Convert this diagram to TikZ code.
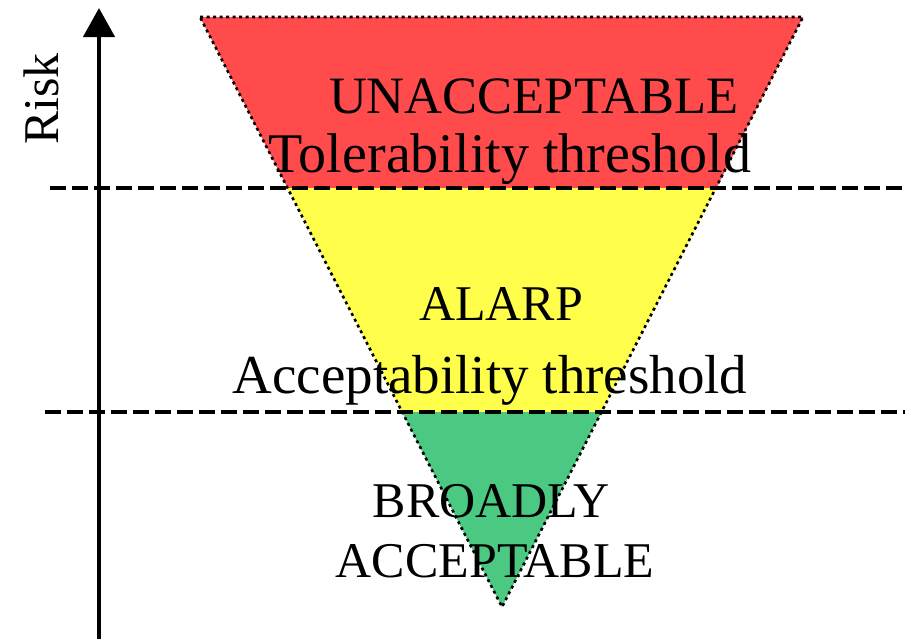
\documentclass[tikz,border=0pt]{standalone}
\usepackage{fontspec}
\setmainfont{Liberation Serif}
\usetikzlibrary{arrows.meta}
\definecolor{zonered}{RGB}{255,75,75}
\definecolor{zoneyellow}{RGB}{255,255,75}
\definecolor{zonegreen}{RGB}{75,200,130}
\tikzset{
  zone/.style={draw=black, line width=2.6pt, dash pattern=on 3pt off 3.5pt},
  threshold/.style={draw=black, line width=3.4pt, dash pattern=on 16pt off 6pt},
  bigcaps/.style={font=\fontsize{50}{60}\selectfont, inner sep=0pt, anchor=base},
  bigtext/.style={font=\fontsize{55}{64}\selectfont, inner sep=0pt, anchor=base},
}
\begin{document}
\begin{tikzpicture}[x=1pt,y=-1pt]
  \useasboundingbox (0,0) rectangle (917,638);
  % zone corners along the inverted triangle
  \coordinate (tl) at (200,17);
  \coordinate (tr) at (803,17);
  \coordinate (apex) at (502,607);
  \coordinate (ml) at (287.5,188);
  \coordinate (mr) at (716.5,188);
  \coordinate (ll) at (402,412);
  \coordinate (lr) at (601.5,412);
  % coloured bands
  \fill[zonered] (tl) -- (tr) -- (mr) -- (ml) -- cycle;
  \fill[zoneyellow] (ml) -- (mr) -- (lr) -- (ll) -- cycle;
  \fill[zonegreen] (ll) -- (lr) -- (apex) -- cycle;
  \draw[zone] (tl) -- (tr) -- (apex) -- cycle;
  % threshold lines
  \coordinate (t1a) at (50,188);
  \coordinate (t1b) at (905,188);
  \coordinate (t2a) at (45,412);
  \coordinate (t2b) at (905,412);
  \draw[threshold] (t1a) -- (t1b);
  \draw[threshold] (t2a) -- (t2b);
  % risk axis
  \coordinate (axbot) at (99,640);
  \coordinate (axtop) at (99,8);
  \draw[line width=4.5pt, -{Triangle[length=29pt,width=31pt]}] (axbot) -- (axtop);
  \node[bigcaps, rotate=90, anchor=base] (risk) at (58,99) {Risk};
  % labels
  \node[bigcaps, font=\fontsize{52.5}{60}\selectfont] (unacc) at (534,113) {UNACCEPTABLE};
  \node[bigtext, font=\fontsize{56}{64}\selectfont] (tol) at (510,172) {Tolerability threshold};
  \node[bigcaps] (alarp) at (501,320) {ALARP};
  \node[bigtext] (acc) at (490,393) {Acceptability threshold};
  \node[bigcaps] (broad) at (491,517) {BROADLY};
  \node[bigcaps] (broadacc) at (495,577) {ACCEPTABLE};
\end{tikzpicture}
\end{document}
